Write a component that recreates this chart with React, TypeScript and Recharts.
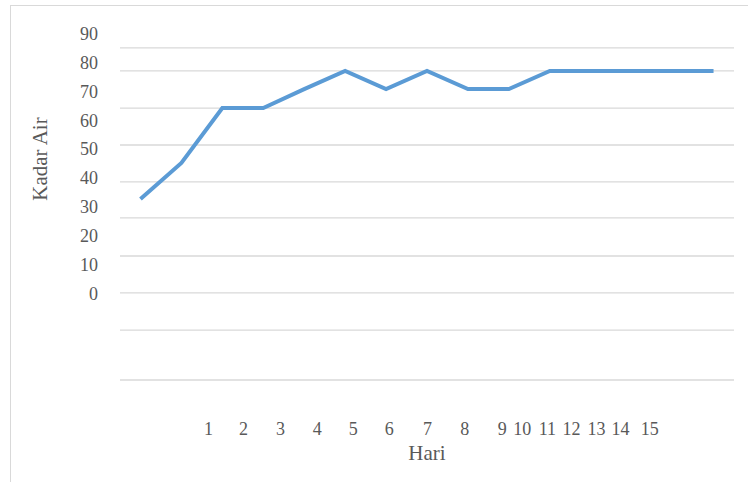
import { Line, LineChart, ReferenceLine, XAxis, YAxis } from 'recharts';

const days = [1, 2, 3, 4, 5, 6, 7, 8, 9, 10, 11, 12, 13, 14, 15];
const kadarAir = [32.8, 45.3, 64.3, 64.3, 70.9, 77.2, 70.9, 77.2, 70.9, 70.9, 77.2, 77.2, 77.2, 77.2, 77.2];

const yTicks = [0, 10, 20, 30, 40, 50, 60, 70, 80, 90];
const gridValues = [85.2, 77.2, 64.3, 51.5, 38.7, 26.2, 13.0, 0.2, -12.7, -30];

// the day labels sit off their points in the source picture
const hariLabels = ['1', '2', '3', '4', '5', '6', '7', '8', '9', '10', '11', '12', '13', '14', '15'];
const hariLabelPos = [2.66, 3.52, 4.42, 5.32, 6.2, 7.08, 8.01, 8.92, 9.84, 10.33, 10.94, 11.53, 12.14, 12.73, 13.44];

const chartData = days.map((day, i) => ({ day, value: kadarAir[i] }));

const font = '"Liberation Serif", "Times New Roman", serif';
const textColor = '#595959';

const YTick = ({ y, payload }: any) => (
  <text x={98} y={y} dy="0.34em" textAnchor="end" fontSize={18} fontFamily={font} fill={textColor}>
    {payload.value}
  </text>
);

const XTick = ({ x, y, index }: any) => (
  <text x={x} y={y + 25} textAnchor="middle" fontSize={18} fontFamily={font} fill={textColor}>
    {hariLabels[index]}
  </text>
);

export default function App() {
  return (
    <div style={{ position: 'absolute', left: 0, top: 0, width: 748, height: 482, background: '#fff' }}>
      <div
        style={{
          position: 'absolute',
          left: 10,
          top: 5,
          right: 0,
          bottom: 0,
          borderTop: '1.5px solid #d9d9d9',
          borderLeft: '1.5px solid #d9d9d9',
        }}
      />
      <LineChart width={748} height={482} data={chartData} margin={{ top: 34, right: 14, bottom: 42, left: 0 }}>
        <XAxis xAxisId="data" dataKey="day" type="number" domain={[0.5, 15.5]} hide />
        <XAxis
          xAxisId="labels"
          dataKey="day"
          type="number"
          domain={[0.5, 15.5]}
          ticks={hariLabelPos}
          interval={0}
          allowDataOverflow
          axisLine={false}
          tickLine={false}
          tickSize={0}
          tickMargin={0}
          height={60}
          tick={<XTick />}
        />
        <YAxis
          type="number"
          domain={[-30, 90]}
          ticks={yTicks}
          interval={0}
          allowDataOverflow
          axisLine={false}
          tickLine={false}
          width={120}
          tick={<YTick />}
        />
        {gridValues.map((v) => (
          <ReferenceLine key={`grid-${v}`} xAxisId="data" y={v} stroke="#d9d9d9" strokeWidth={1.3} />
        ))}
        <Line
          xAxisId="data"
          type="linear"
          dataKey="value"
          stroke="#5b9bd5"
          strokeWidth={4}
          dot={false}
          isAnimationActive={false}
        />
      </LineChart>
      <div
        style={{
          position: 'absolute',
          left: 427,
          top: 453,
          transform: 'translate(-50%, -50%)',
          fontFamily: font,
          fontSize: 21,
          color: textColor,
          whiteSpace: 'nowrap',
        }}
      >
        Hari
      </div>
      <div
        style={{
          position: 'absolute',
          left: 40,
          top: 159,
          transform: 'translate(-50%, -50%) rotate(-90deg)',
          fontFamily: font,
          fontSize: 21,
          color: textColor,
          whiteSpace: 'nowrap',
        }}
      >
        Kadar Air
      </div>
    </div>
  );
}
